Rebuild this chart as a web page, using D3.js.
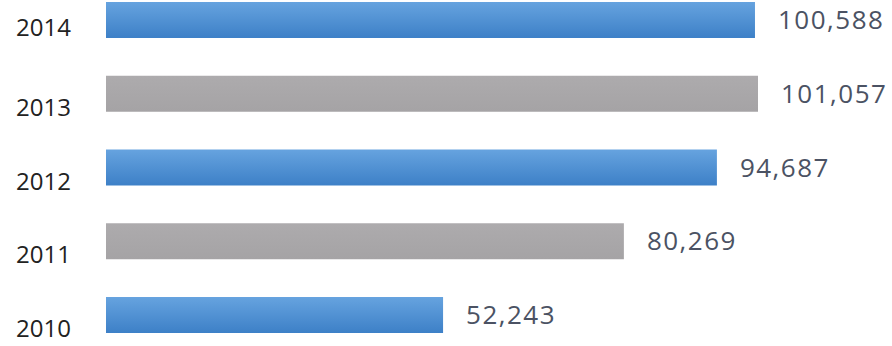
<!DOCTYPE html>
<html>
<head>
<meta charset="utf-8">
<script src="https://cdn.jsdelivr.net/npm/d3@7"></script>
<style>
  body { margin: 0; background: #fff; }
  text { font-family: "Open Sans", sans-serif; }
</style>
</head>
<body>
<div id="chart"></div>
<script>
// data, top to bottom as in the picture
const years = ["2014", "2013", "2012", "2011", "2010"];
const values = [100588, 101057, 94687, 80269, 52243];
const barColors = ["blue", "gray", "blue", "gray", "blue"];

const W = 892, H = 346;
const margin = { top: 2, right: 0, bottom: 13, left: 106 };

const svg = d3.select("#chart").append("svg")
  .attr("width", W)
  .attr("height", H);

// gradients for the bars
const defs = svg.append("defs");
const blue = defs.append("linearGradient").attr("id", "blue")
  .attr("x1", 0).attr("y1", 0).attr("x2", 0).attr("y2", 1);
blue.append("stop").attr("offset", "0%").attr("stop-color", "#66a3df");
blue.append("stop").attr("offset", "100%").attr("stop-color", "#3d80c7");
const gray = defs.append("linearGradient").attr("id", "gray")
  .attr("x1", 0).attr("y1", 0).attr("x2", 0).attr("y2", 1);
gray.append("stop").attr("offset", "0%").attr("stop-color", "#adabad");
gray.append("stop").attr("offset", "100%").attr("stop-color", "#a5a3a5");

const x = d3.scaleLinear()
  .domain([0, 101057])
  .range([margin.left, 758]);

const y = d3.scaleBand()
  .domain(years)
  .range([margin.top, H - margin.bottom])
  .paddingInner(0.512)
  .paddingOuter(0);

const rows = years.map((yr, i) => ({ year: yr, value: values[i], color: barColors[i] }));

svg.selectAll("rect.bar")
  .data(rows)
  .join("rect")
  .attr("class", "bar")
  .attr("x", x(0))
  .attr("y", d => y(d.year))
  .attr("width", d => x(d.value) - x(0))
  .attr("height", y.bandwidth())
  .attr("fill", d => `url(#${d.color})`);

// year labels on the left (no axis line or ticks), sitting a bit below bar centre
const yAxis = d3.axisLeft(y).tickSize(0).tickPadding(35);
const gy = svg.append("g")
  .attr("transform", `translate(${margin.left},0)`)
  .call(yAxis);
gy.select(".domain").remove();
gy.selectAll("text")
  .attr("font-size", 24)
  .attr("fill", "#222")
  .attr("dy", (d, i) => i === 0 ? 16 : 22);

// value labels
svg.selectAll("text.val")
  .data(rows)
  .join("text")
  .attr("class", "val")
  .attr("x", d => x(d.value) + 23)
  .attr("y", d => y(d.year) + y.bandwidth() / 2)
  .attr("dy", "0.35em")
  .attr("font-size", 26)
  .attr("letter-spacing", 1.5)
  .attr("fill", "#4b5263")
  .text(d => d3.format(",")(d.value));
</script>
</body>
</html>
